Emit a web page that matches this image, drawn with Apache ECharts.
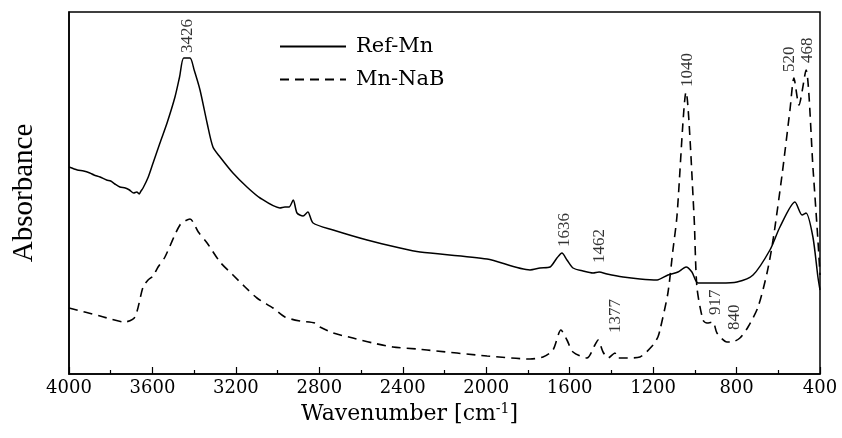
<!DOCTYPE html>
<html><head><meta charset="utf-8">
<script src="https://cdn.jsdelivr.net/npm/echarts@6/dist/echarts.min.js"></script>
<style>html,body{margin:0;padding:0;background:#fff}#c{width:842px;height:438px}</style>
</head><body><div id="c"></div>
<script>
// Ref-Mn (solid) : wavenumber [cm-1] and absorbance (arbitrary units)
const refMnWn = [4000,3960,3930,3900,3880,3851,3820,3800,3780,3756,3730,3710,3690,3675,3664,3655,3645,3620,3597,3564,3530,3492,3470,3450,3420,3400,3372,3338,3310,3276,3214,3147,3084,2989,2965,2945,2925,2907,2878,2855,2830,2734,2571,2413,2317,1996,1790,1742,1694,1661,1637,1613,1584,1536,1488,1459,1421,1344,1263,1181,1129,1081,1042,1014,985,879,798,721,640,592,520,486,467,434,410,400];
const refMnAbs = [207,204,203,201,199,197,194,193,190,187,186,184,181,182,180,183,186,197,211,231,251,277,297,316,316,304,284,251,227,217,201,187,176,166,167,167,174,161,158,162,151,144,134,126,122,115,104,106,107,116,121,114,106,103,101,102,100,97,95,94,99,102,107,102,91,91,92,99,124,147,172,159,161,137,97,84];
// Mn-NaB (dashed)
const mnNaBWn = [4000,3851,3732,3684,3645,3621,3597,3573,3540,3468,3420,3380,3338,3276,3214,3156,3099,3022,2965,2893,2821,2797,2734,2639,2543,2447,2332,2284,1996,1790,1728,1680,1642,1613,1584,1517,1479,1464,1440,1416,1383,1373,1325,1263,1200,1177,1167,1129,1105,1086,1042,1004,990,961,942,913,894,846,822,784,745,697,654,625,582,544,525,501,467,433,410,400];
const mnNaBAbs = [66,58,52,57,87,94,98,107,117,149,155,142,131,112,99,87,76,66,57,53,51,47,41,36,31,27,25,24,18,15,17,24,44,34,22,16,29,34,22,16,21,16,16,17,29,37,44,81,124,157,282,159,87,54,51,52,41,32,32,36,47,67,101,134,199,264,296,269,304,204,134,99];
// peak annotations: text, position of the label foot (wavenumber, absorbance)
const peakText = ['3426','1040','520','468','1636','1462','1377','917','840'];
const peakWn   = [3430,1033,546,458,1627,1455,1378,899,812];
const peakAbs  = [321,287,302,311,127,111,41,59,44];
// axis ticks
const xMin = 400, xMax = 4000, xStep = 400;

const zip = (a,b) => a.map((v,i)=>[v,b[i]]);
const chart = echarts.init(document.getElementById('c'), null, {renderer:'canvas'});
chart.setOption({
  animation:false,
  backgroundColor:'#fff',
  grid:{left:69,right:22,top:12,bottom:64,show:true,borderColor:'#000',borderWidth:1.5,backgroundColor:'transparent'},
  legend:{
    data:['Ref-Mn','Mn-NaB'], orient:'vertical', left:274, top:31,
    itemWidth:66, itemHeight:14, itemGap:12,
    itemStyle:{opacity:0},
    textStyle:{fontFamily:'DejaVu Serif',fontSize:21,color:'#000',padding:[0,0,0,5]}
  },
  xAxis:{
    type:'value', min:xMin, max:xMax, interval:xStep, inverse:true,
    name:'{a|Wavenumber [cm}{s|-1}{a|]}', nameLocation:'middle', nameGap:24,
    nameTextStyle:{padding:[0,70,0,0], rich:{
      a:{fontFamily:'DejaVu Serif',fontSize:22,color:'#000'},
      s:{fontFamily:'DejaVu Serif',fontSize:14,color:'#000',verticalAlign:'top',padding:[0,0,10,0]}
    }},
    axisLine:{lineStyle:{color:'#000',width:1.5}},
    axisTick:{inside:true,length:7,lineStyle:{color:'#000',width:1.2}},
    minorTick:{show:true,splitNumber:2,length:4,lineStyle:{color:'#000',width:1.2}},
    axisLabel:{fontFamily:'DejaVu Serif',fontSize:18,color:'#000',margin:5,formatter:v=>String(v)},
    splitLine:{show:false}
  },
  yAxis:{
    type:'value', min:0, max:362,
    name:'Absorbance', nameLocation:'middle', nameGap:30,
    nameTextStyle:{fontFamily:'Liberation Serif',fontSize:29,color:'#000'},
    axisLine:{show:true,lineStyle:{color:'#000',width:1.5}},
    axisTick:{show:false}, axisLabel:{show:false}, splitLine:{show:false}
  },
  series:[
    {name:'Ref-Mn', type:'line', data:zip(refMnWn,refMnAbs), symbol:'none', smooth:0.25,
     lineStyle:{color:'#000',width:1.5,type:'solid'}, itemStyle:{color:'#000'}},
    {name:'Mn-NaB', type:'line', data:zip(mnNaBWn,mnNaBAbs), symbol:'none', smooth:0.25,
     lineStyle:{color:'#000',width:1.6,type:[9,6]}, itemStyle:{color:'#000'}},
    {name:'peaks', type:'scatter', symbolSize:0, silent:true, z:10,
     data:peakText.map((t,i)=>({value:[peakWn[i],peakAbs[i]],name:t})),
     label:{show:true, formatter:p=>p.name, rotate:90, position:[0,0], align:'left', verticalAlign:'middle',
            fontFamily:'Liberation Serif', fontSize:17, color:'#000'}}
  ]
});
</script></body></html>
